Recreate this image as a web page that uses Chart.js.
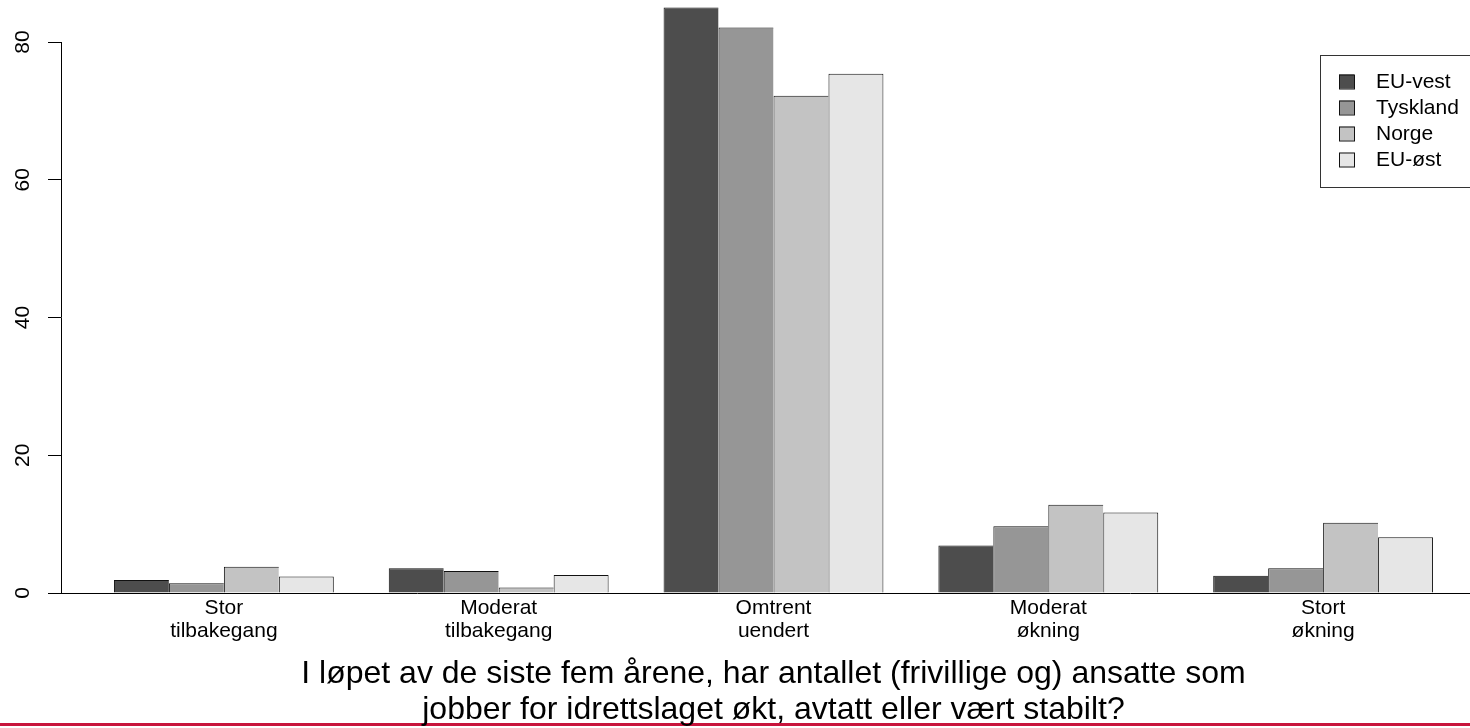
<!DOCTYPE html>
<html>
<head>
<meta charset="utf-8">
<script src="https://cdn.jsdelivr.net/npm/chart.js@4.4.1/dist/chart.umd.min.js"></script>
<style>
  html, body { margin: 0; padding: 0; background: #fff; }
  #wrap { position: relative; width: 1470px; height: 728px; overflow: hidden; background: #fff; }
  #redline { position: absolute; left: 0; right: 0; top: 723px; height: 3px; background: #c8143c; }
  #myChart { position: absolute; left: 0; top: 0; }
</style>
</head>
<body>
<div id="wrap">
  <div id="redline"></div>
  <!-- litt bredere enn vinduet: plottområdet i R går ut over høyre kant -->
  <canvas id="myChart" width="1486" height="728"></canvas>
</div>
<script>
// kategorier (x-akse), to linjer hver
const kategorier = [
  ['Stor', 'tilbakegang'],
  ['Moderat', 'tilbakegang'],
  ['Omtrent', 'uendert'],
  ['Moderat', 'økning'],
  ['Stort', 'økning']
];
const serier = ['EU-vest', 'Tyskland', 'Norge', 'EU-øst'];
const euVest   = [1.9, 3.6, 85.0, 6.9, 2.5];
const tyskland = [1.4, 3.2, 82.1, 9.7, 3.6];
const norge    = [3.8, 0.8, 72.2, 12.8, 10.2];
const euOst    = [2.4, 2.6, 75.4, 11.7, 8.1];
const farger = ['#4d4d4d', '#969696', '#c3c3c3', '#e6e6e6'];
const yTicks = [0, 20, 40, 60, 80];
const tittel = [
  'I løpet av de siste fem årene, har antallet (frivillige og) ansatte som',
  'jobber for idrettslaget økt, avtatt eller vært stabilt?'
];

const FONT = "'Liberation Sans', Arial, sans-serif";
Chart.defaults.font.family = FONT;
Chart.defaults.color = '#000';

const verdier = [euVest, tyskland, norge, euOst];
const datasets = serier.map((navn, s) => ({
  label: navn,
  data: verdier[s].map((v, i) => ({ x: i + 1, y: v })),
  backgroundColor: farger[s],
  borderColor: '#111',
  borderWidth: { top: 1, left: 1, right: s === serier.length - 1 ? 1 : 0, bottom: 0 },
  borderSkipped: false,
  categoryPercentage: 0.8,
  barPercentage: 1.0
}));

// y-aksens linje går bare fra første til siste tick, som i R
const yAkseLinje = {
  id: 'yAkseLinje',
  afterDraw(chart) {
    const y = chart.scales.y;
    const ctx = chart.ctx;
    const x = Math.round(chart.chartArea.left) + 0.5;
    ctx.save();
    ctx.strokeStyle = '#000';
    ctx.lineWidth = 1;
    ctx.beginPath();
    ctx.moveTo(x, y.getPixelForValue(yTicks[0]));
    ctx.lineTo(x, y.getPixelForValue(yTicks[yTicks.length - 1]));
    ctx.stroke();
    ctx.restore();
  }
};

// legendeboks i R-stil, oppe til høyre
const legendeBoks = {
  id: 'legendeBoks',
  afterDraw(chart) {
    const ctx = chart.ctx;
    const a = chart.chartArea;
    const venstre = a.right - 166, topp = 55, bunn = 187;
    ctx.save();
    ctx.strokeStyle = '#333';
    ctx.lineWidth = 1;
    ctx.strokeRect(venstre + 0.5, topp + 0.5, a.right - venstre, bunn - topp);
    ctx.font = '21px ' + FONT;
    ctx.textBaseline = 'middle';
    ctx.textAlign = 'left';
    chart.data.datasets.forEach((ds, i) => {
      const y = topp + 26.5 + i * 26;
      ctx.fillStyle = ds.backgroundColor;
      ctx.fillRect(venstre + 19, y - 7, 15, 14);
      ctx.strokeStyle = '#111';
      ctx.strokeRect(venstre + 19.5, y - 6.5, 15, 14);
      ctx.fillStyle = '#000';
      ctx.fillText(ds.label, venstre + 56, y + 1);
    });
    ctx.restore();
  }
};

new Chart(document.getElementById('myChart').getContext('2d'), {
  type: 'bar',
  data: { datasets },
  options: {
    responsive: false,
    animation: false,
    layout: { padding: 0 },
    plugins: { legend: { display: false }, tooltip: { enabled: false } },
    scales: {
      x: {
        type: 'linear',
        offset: false,
        min: 0.4073,
        max: 5.5927,
        afterBuildTicks: s => { s.ticks = kategorier.map((k, i) => ({ value: i + 1 })); },
        afterFit: s => { s.height = 135; s.paddingLeft = 0; s.paddingRight = 0; },
        grid: { display: false, offset: false, drawTicks: false, tickLength: 0 },
        border: { display: true, color: '#000', width: 1 },
        ticks: {
          autoSkip: false,
          maxRotation: 0,
          padding: 3,
          font: { size: 21, lineHeight: 1.13 },
          callback: (v, i) => kategorier[i]
        },
        title: {
          display: true,
          text: tittel,
          font: { size: 32, lineHeight: 1.125 },
          padding: { top: 0, bottom: 0 }
        }
      },
      y: {
        min: 0,
        max: 86.1,
        afterBuildTicks: s => { s.ticks = yTicks.map(v => ({ value: v })); },
        afterFit: s => { s.width = 61; s.paddingTop = 0; s.paddingBottom = 0; },
        grid: { drawOnChartArea: false, drawTicks: true, tickLength: 13, color: '#000' },
        border: { display: false },
        ticks: {
          minRotation: 90,
          maxRotation: 90,
          crossAlign: 'center',
          padding: 13,
          font: { size: 21 },
          callback: v => String(v)
        }
      }
    }
  },
  plugins: [yAkseLinje, legendeBoks]
});
</script>
</body>
</html>
